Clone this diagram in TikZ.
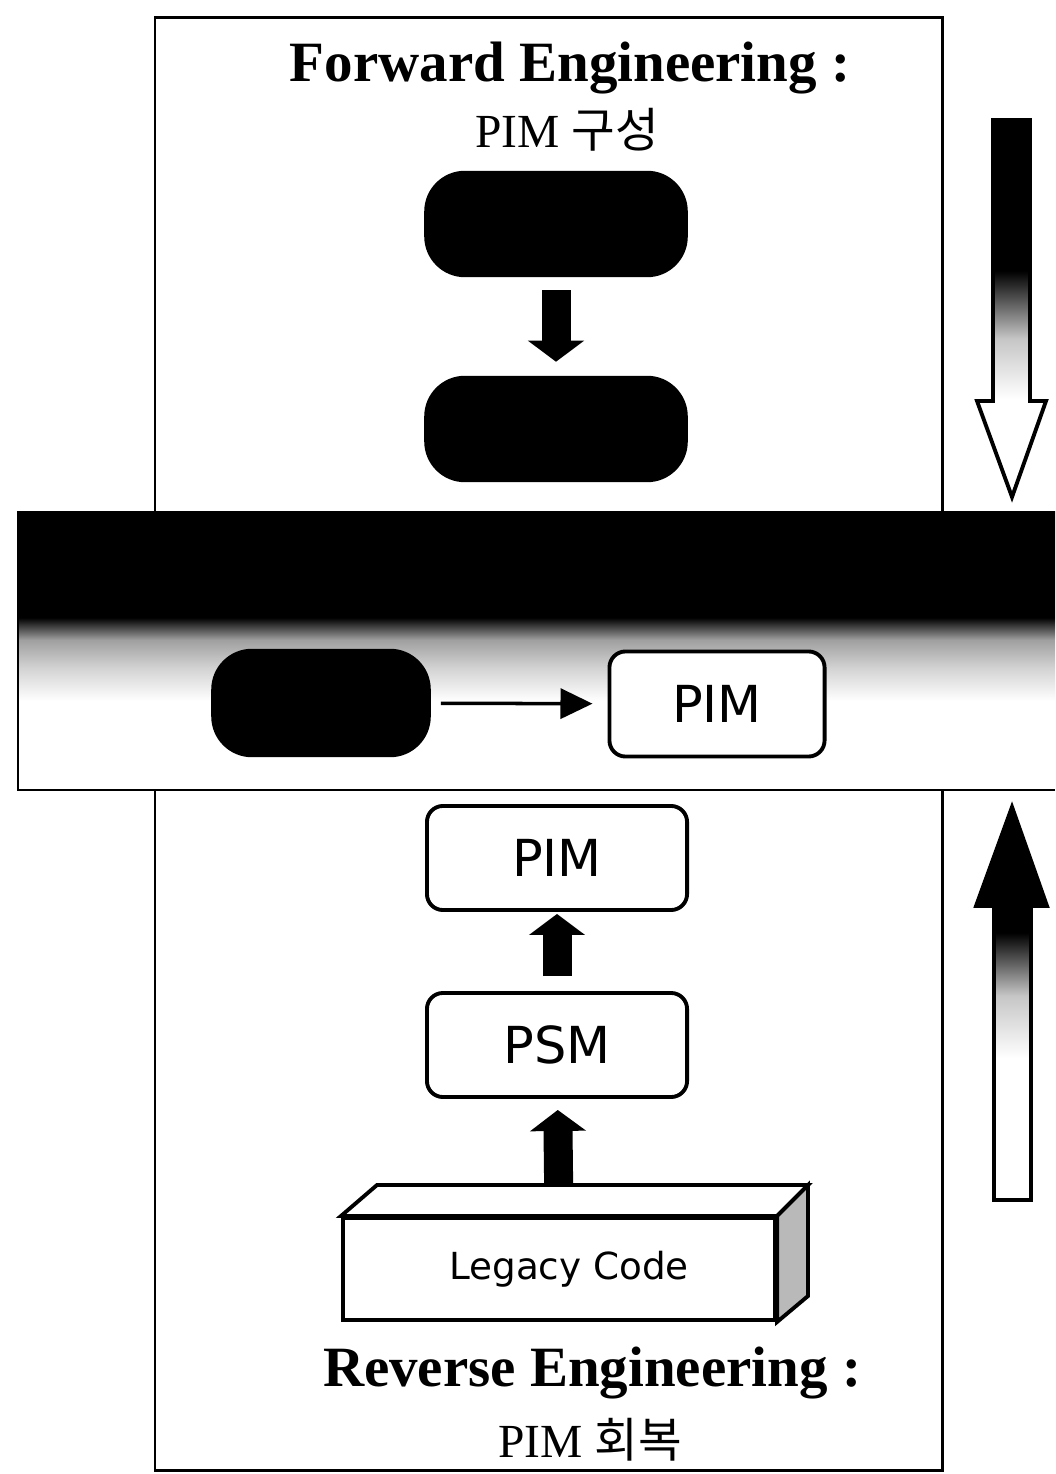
\documentclass[tikz,border=0pt]{standalone}
\usepackage{fontspec}
\setmainfont{Liberation Serif}
\newfontfamily\krfont{Noto Sans CJK KR}
\newfontfamily\boxfont{DejaVu Sans}
\usepackage{tikz}
\usetikzlibrary{positioning}
\usetikzlibrary{arrows.meta}

\pgfdeclareverticalshading{bandfade}{100bp}{color(0bp)=(white); color(41bp)=(white); color(47bp)=(gray!35); color(52bp)=(gray!75); color(56bp)=(black); color(100bp)=(black)}
\pgfdeclareverticalshading{downfade}{100bp}{color(0bp)=(white); color(38bp)=(white); color(46bp)=(gray!45); color(55bp)=(black); color(100bp)=(black)}
\pgfdeclareverticalshading{upfade}{100bp}{color(0bp)=(white); color(43bp)=(white); color(51bp)=(gray!45); color(59bp)=(black); color(100bp)=(black)}

\tikzset{
  frame/.style={line width=0.85pt},
  darkbox/.style={rounded corners=4mm, fill=black, draw=black, minimum width=2.62cm, minimum height=1.05cm},
  modelbox/.style={rounded corners=1.6mm, fill=white, draw=black, line width=1.1pt, minimum width=2.6cm, minimum height=1.04cm, font=\boxfont\fontsize{14.5}{17}\selectfont},
  blockarrow/.style={line width=2.9mm, -{Triangle[width=5.5mm, length=2.1mm]}},
  title/.style={font=\bfseries\fontsize{16.2}{19}\selectfont},
  subtitle/.style={font=\fontsize{13.5}{15}\selectfont}
}

\begin{document}
\begin{tikzpicture}[x=0.01cm, y=-0.01cm]
    \useasboundingbox (0,0) rectangle (1055,1474);
    \fill[white] (0,0) rectangle (1055,1474);

    % frames
    \draw[frame] (155,18) rectangle (942,512);
    \draw[frame] (155,790) rectangle (942,1470);

    % band in the middle
    \shade[shading=bandfade] (18,512) rectangle (1055,790);
    \draw[frame] (1055,512) -- (18,512) -- (18,790) -- (1055,790);

    % forward engineering
    \node[title] (fwdTitle) at (570,68) {Forward Engineering :};
    \node[subtitle] (fwdSub) at (567,130) {PIM {\krfont 구성}};
    \node[darkbox] (fwdA) at (556,224) {};
    \node[darkbox] (fwdB) at (556,429) {};
    \draw[blockarrow, shorten <=1.3mm, shorten >=1.4mm] (fwdA) -- (fwdB);

    % linking
    \node[darkbox, minimum width=2.18cm, minimum height=1.07cm] (srcBox) at (321,703) {};
    \node[modelbox, minimum width=2.15cm, minimum height=1.05cm] (bandPIM) at (717,704) {PIM};
    \draw[line width=1pt, -{Triangle[width=3mm, length=3.2mm]}, shorten <=1mm, shorten >=1.5mm] (srcBox) -- (bandPIM);

    % reverse engineering
    \node[modelbox] (revPIM) at (557,858) {PIM};
    \node[modelbox] (revPSM) at (557,1045) {PSM};
    \node[draw, line width=1.1pt, fill=white, minimum width=4.32cm, minimum height=1.02cm,
          font=\boxfont\fontsize{10.6}{13}\selectfont] (legacy) at (559,1269) {\hspace*{2mm}Legacy Code};
    \draw[line width=1.1pt, fill=white] (legacy.north west) -- (377,1185) -- (808,1185) -- (legacy.north east) -- cycle;
    \draw[line width=1.1pt, fill=gray!55] (legacy.north east) -- (808,1185) -- (808,1296) -- (legacy.south east) -- cycle;
    \draw[blockarrow, shorten <=1.5mm, shorten >=0.2mm] (revPSM) -- (revPIM);
    \draw[blockarrow, shorten <=3.3mm, shorten >=1.1mm] (legacy.north) -- (revPSM);
    \node[title] (revTitle) at (592,1373) {Reverse Engineering :};
    \node[subtitle] (revSub) at (590,1440) {PIM {\krfont 회복}};

    % side arrows
    \shade[shading=downfade, draw=black, line width=1.1pt]
      (993,120) -- (1030,120) -- (1030,401) -- (1046,401) -- (1012,497) -- (977,401) -- (993,401) -- cycle;
    \shade[shading=upfade, draw=black, line width=1.1pt]
      (1012,807) -- (1047,906) -- (1031,906) -- (1031,1200) -- (994,1200) -- (994,906) -- (976,906) -- cycle;
\end{tikzpicture}
\end{document}
